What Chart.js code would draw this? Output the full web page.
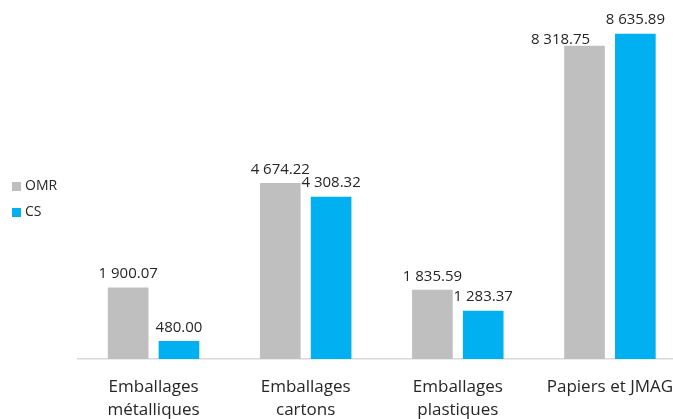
<!DOCTYPE html>
<html>
<head>
<meta charset="utf-8">
<script src="https://cdn.jsdelivr.net/npm/chart.js@4/dist/chart.umd.min.js"></script>
<style>
    html, body {margin: 0; padding: 0; background: #fff; overflow: hidden;}
    #wrap {width: 673px; height: 419px; overflow: hidden; position: relative;}
    #chart {position: absolute; left: 0; top: 0;}
</style>
</head>
<body>
<div id="wrap"><canvas id="chart" width="700" height="440"></canvas></div>
<script>
// categories and values
const categories = [["Emballages", "métalliques"], ["Emballages", "cartons"], ["Emballages", "plastiques"], "Papiers et JMAG"]
const seriesNames = ["OMR", "CS"]
const omrValues = [1900.07, 4674.22, 1835.59, 8318.75]
const csValues = [480.00, 4308.32, 1283.37, 8635.89]
const seriesColors = ["#BFBFBF", "#00B0F0"]

const textColor = "#262626"
const fontFamily = "'Open Sans', 'Noto Sans', sans-serif"

// one label was nudged by hand in the original (dataset, index) -> [dx, dy]
const labelNudges = {"0-3": [-24, 8]}

function formatValue(v) {
    // 8318.75 -> "8 318.75"
    let parts = v.toFixed(2).split(".")
    parts[0] = parts[0].replace(/\B(?=(\d{3})+(?!\d))/g, " ")
    return parts.join(".")
}

// value labels above each bar
const valueLabels = {
    id: "valueLabels",
    afterDatasetsDraw(chart) {
        const ctx = chart.ctx
        ctx.save()
        ctx.font = "15px " + fontFamily
        ctx.fillStyle = textColor
        ctx.textAlign = "center"
        ctx.textBaseline = "bottom"
        chart.data.datasets.forEach((ds, i) => {
            chart.getDatasetMeta(i).data.forEach((bar, j) => {
                let nudge = labelNudges[i + "-" + j] || [0, 0]
                ctx.fillText(formatValue(ds.data[j]), bar.x + nudge[0], bar.y - 6 + nudge[1])
            })
        })
        ctx.restore()
    }
}

// legend on the left, drawn by hand so it does not squeeze the plot
const sideLegend = {
    id: "sideLegend",
    afterDraw(chart) {
        const ctx = chart.ctx
        ctx.save()
        ctx.font = "14px " + fontFamily
        ctx.textBaseline = "middle"
        chart.data.datasets.forEach((ds, i) => {
            let y = 186 + i * 26
            ctx.fillStyle = ds.backgroundColor
            ctx.fillRect(12, y - 4, 9, 9)
            ctx.fillStyle = textColor
            ctx.fillText(ds.label, 25, y)
        })
        ctx.restore()
    }
}

const chart = new Chart(document.getElementById("chart"), {
    type: "bar",
    data: {
        labels: categories,
        datasets: [
            {label: seriesNames[0], data: omrValues, backgroundColor: seriesColors[0]},
            {label: seriesNames[1], data: csValues, backgroundColor: seriesColors[1]}
        ]
    },
    options: {
        responsive: false,
        animation: false,
        categoryPercentage: 0.668,
        barPercentage: 0.8,
        layout: {padding: {left: 77.5, right: 14, top: 20, bottom: 0}},
        plugins: {
            legend: {display: false},
            tooltip: {enabled: false}
        },
        scales: {
            x: {
                grid: {display: false, drawTicks: false},
                border: {display: true, color: "#D9D9D9", width: 1.5},
                ticks: {
                    color: textColor,
                    font: {family: fontFamily, size: 17, lineHeight: 1.35},
                    padding: 17,
                    maxRotation: 0,
                    autoSkip: false
                },
                afterFit(scale) { scale.height = 81 }
            },
            y: {
                display: false,
                min: 0,
                max: 9000
            }
        }
    },
    plugins: [valueLabels, sideLegend]
})
</script>
</body>
</html>
